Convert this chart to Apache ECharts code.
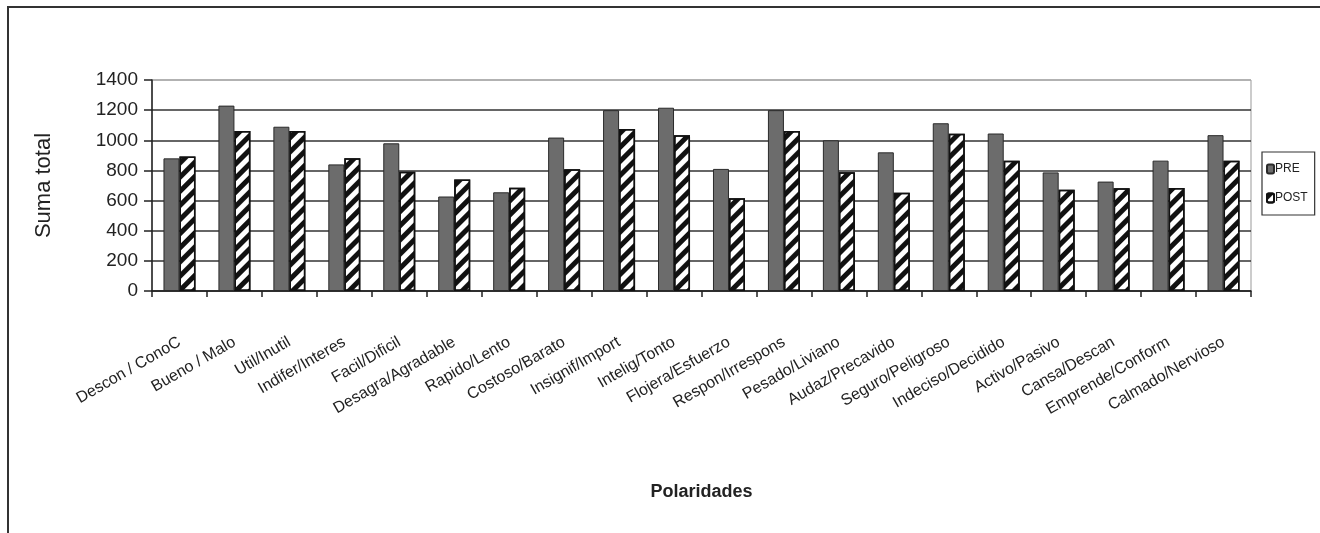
<!DOCTYPE html>
<html>
<head>
<meta charset="utf-8">
<script src="https://cdn.jsdelivr.net/npm/echarts@6/dist/echarts.min.js"></script>
<style>
html,body{margin:0;padding:0;background:#fff;}
#chart{width:1320px;height:533px;}
</style>
</head>
<body>
<div id="chart"></div>
<script>
var categories = ["Descon / ConoC","Bueno / Malo","Util/Inutil","Indifer/Interes","Facil/Dificil","Desagra/Agradable","Rapido/Lento","Costoso/Barato","Insignif/Import","Intelig/Tonto","Flojera/Esfuerzo","Respon/Irrespons","Pesado/Liviano","Audaz/Precavido","Seguro/Peligroso","Indeciso/Decidido","Activo/Pasivo","Cansa/Descan","Emprende/Conform","Calmado/Nervioso"];
var preValues  = [880,1230,1090,840,980,627,655,1018,1200,1216,810,1200,1000,920,1113,1045,787,726,865,1034];
var postValues = [893,1062,1062,880,792,740,685,808,1075,1034,616,1062,788,652,1044,865,671,681,684,865];
var yTicks = [0,200,400,600,800,1000,1200,1400];

var font = "'Liberation Sans', Arial, sans-serif";
var chart = echarts.init(document.getElementById('chart'));
chart.setOption({
  animation: false,
  backgroundColor: '#fff',
  graphic: [{
    type: 'polyline',
    shape: {points: [[8, 540], [8, 7], [1330, 7]]},
    style: {stroke: '#333', lineWidth: 2, fill: null}
  }],
  legend: {
    orient: 'vertical',
    left: 1262, top: 152,
    padding: [11, 7, 11, 4],
    borderColor: '#333', borderWidth: 1.2,
    itemWidth: 7, itemHeight: 9, itemGap: 17,
    textStyle: {fontFamily: font, fontSize: 12, color: '#222', padding: [0,0,0,-4]},
    data: ['PRE', 'POST']
  },
  grid: {
    left: 152, right: 69, top: 80, bottom: 242,
    show: true, borderColor: '#999', borderWidth: 1, backgroundColor: 'transparent'
  },
  xAxis: {
    type: 'category',
    data: categories,
    name: 'Polaridades',
    nameLocation: 'middle',
    nameGap: 192,
    nameTextStyle: {fontFamily: font, fontSize: 18, fontWeight: 'bold', color: '#222'},
    axisLine: {lineStyle: {color: '#222', width: 1.5}},
    axisTick: {show: true, length: 6, lineStyle: {color: '#222', width: 1.5}},
    axisLabel: {rotate: 30, margin: 50, fontFamily: font, fontSize: 16, color: '#222', interval: 0}
  },
  yAxis: {
    type: 'value',
    min: 0, max: 1400, interval: 200,
    name: 'Suma total',
    nameLocation: 'middle',
    nameGap: 97,
    nameTextStyle: {fontFamily: font, fontSize: 22, color: '#222'},
    axisLine: {show: true, lineStyle: {color: '#222', width: 1.5}},
    axisTick: {show: true, length: 8, lineStyle: {color: '#222', width: 1.5}},
    axisLabel: {fontFamily: font, fontSize: 19, color: '#222', margin: 14,
      formatter: function (v) { return yTicks.indexOf(v) >= 0 ? String(v) : ''; }},
    splitLine: {show: true, lineStyle: {color: ['#333','#333','#333','#333','#333','#333','#333','#aaa'], width: 1.6}}
  },
  series: [{
    name: 'PRE',
    type: 'bar',
    data: preValues,
    barWidth: 16,
    barGap: '0%',
    itemStyle: {color: '#6c6c6c', borderColor: '#2a2a2a', borderWidth: 1}
  }, {
    name: 'POST',
    type: 'bar',
    data: postValues,
    barWidth: 16,
    itemStyle: {
      color: '#fff', borderColor: '#111', borderWidth: 1.5,
      decal: {symbol: 'rect', symbolSize: 1, dashArrayX: [1, 0], dashArrayY: [5, 5], rotation: -Math.PI / 4, color: '#111'}
    }
  }]
});
</script>
</body>
</html>
